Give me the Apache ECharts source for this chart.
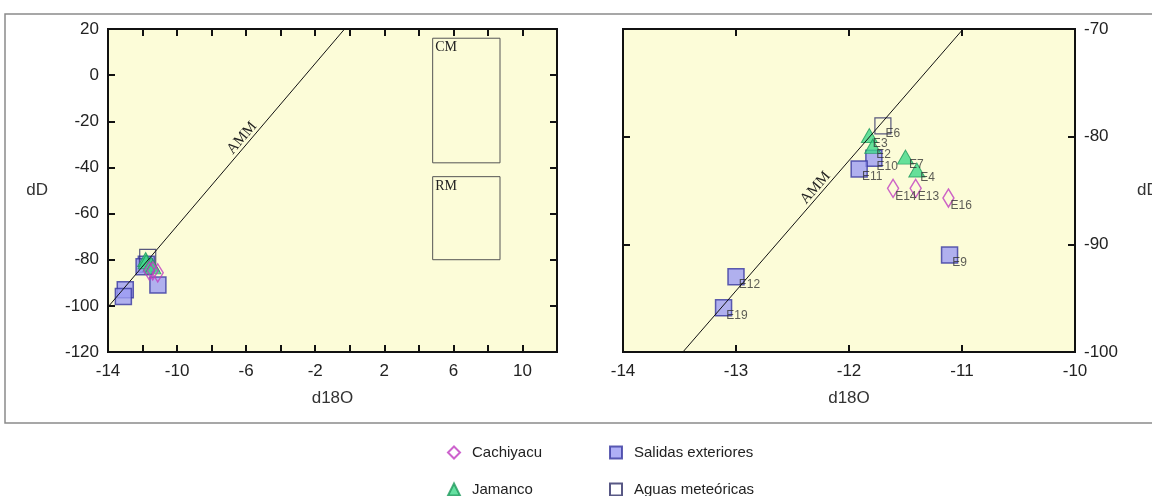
<!DOCTYPE html>
<html>
<head>
<meta charset="utf-8">
<script src="https://cdn.jsdelivr.net/npm/echarts@6/dist/echarts.min.js"></script>
<style>
  html, body { margin: 0; padding: 0; background: #fff; }
  #chart { width: 1152px; height: 496px; }
</style>
</head>
<body>
<div id="chart"></div>
<script>
// puntos: [d18O, dD, etiqueta]
const cachiyacu = [[-11.61, -84.8, 'E14'], [-11.41, -84.8, 'E13'], [-11.12, -85.7, 'E16']];
const jamanco = [[-11.82, -79.9, 'E3'], [-11.79, -80.9, 'E2'], [-11.50, -81.9, 'E7'], [-11.40, -83.1, 'E4']];
const salidas = [[-11.78, -82.0, 'E10'], [-11.91, -83.0, 'E11'], [-11.11, -91.0, 'E9'], [-13.0, -93.0, 'E12'], [-13.11, -95.9, 'E19']];
const aguas = [[-11.70, -79.0, 'E6']];

const ammLeft = [[-14, -100.5], [-0.3, 20]];
const ammRight = [[-13.47, -100], [-10.99, -70]];

// recuadros CM / RM del panel izquierdo
const boxCM = [[4.8, 16], [8.7, -38]];
const boxRM = [[4.8, -44], [8.7, -80]];

const xTicksLeft = { min: -14, max: 12, interval: 2 };
const yTicksLeft = { min: -120, max: 20, interval: 20 };
const xTicksRight = { min: -14, max: -10, interval: 1 };
const yTicksRight = { min: -100, max: -70, interval: 10 };

const FONT = 'Liberation Sans, Arial, sans-serif';
const SERIF = 'Liberation Serif, DejaVu Serif, serif';
const BG = '#fcfcd8';

const chart = echarts.init(document.getElementById('chart'));

function axisBase(show) {
  return {
    axisLine: { show: false, onZero: false },
    axisTick: { show: true, inside: true, length: 7, lineStyle: { color: '#111', width: 2 } },
    axisLabel: { show: show, color: '#222', fontSize: 17, fontFamily: FONT },
    splitLine: { show: false }
  };
}

function xAxis(grid, t, pos, labels, fmt) {
  const a = Object.assign(axisBase(labels), {
    type: 'value', gridIndex: grid, position: pos, min: t.min, max: t.max, interval: t.interval
  });
  if (labels) {
    a.name = 'd18O';
    a.nameLocation = 'middle';
    a.nameGap = 38;
    a.nameTextStyle = { color: '#333', fontSize: 17, fontFamily: FONT };
    a.axisLabel.margin = 11;
    if (fmt) a.axisLabel.formatter = fmt;
  }
  return a;
}

function yAxis(grid, t, pos, labels, gap) {
  const a = Object.assign(axisBase(labels), {
    type: 'value', gridIndex: grid, position: pos, min: t.min, max: t.max, interval: t.interval
  });
  if (labels) {
    a.name = 'dD';
    a.nameLocation = 'middle';
    a.nameRotate = 0;
    a.nameGap = gap;
    a.nameTextStyle = { color: '#333', fontSize: 17, fontFamily: FONT };
    a.axisLabel.margin = 9;
  }
  return a;
}

const styles = {
  'Cachiyacu': { symbol: 'diamond', symbolSize: [11, 18], itemStyle: { color: 'rgba(0,0,0,0)', borderColor: '#c03cc0', borderWidth: 1.5 }, dist: -4 },
  'Jamanco': { symbol: 'triangle', symbolSize: [16, 14], itemStyle: { color: '#3ed88a', borderColor: '#1f9a5c', borderWidth: 1 }, dist: -5 },
  'Salidas exteriores': { symbol: 'rect', symbolSize: 16, itemStyle: { color: '#9c9cf4', borderColor: '#3838a0', borderWidth: 1.5 }, dist: -6 },
  'Aguas meteóricas': { symbol: 'rect', symbolSize: 16, itemStyle: { color: 'rgba(0,0,0,0)', borderColor: '#2e2e66', borderWidth: 1.2 }, dist: -6 }
};
const groups = [['Salidas exteriores', salidas], ['Aguas meteóricas', aguas], ['Jamanco', jamanco], ['Cachiyacu', cachiyacu]];

const series = [];
groups.forEach(function (g) {
  const st = styles[g[0]];
  [0, 1].forEach(function (grid) {
    series.push({
      name: g[0],
      type: 'scatter',
      xAxisIndex: grid * 2,
      yAxisIndex: grid * 2,
      symbol: st.symbol,
      symbolSize: st.symbolSize,
      itemStyle: st.itemStyle,
      z: 3,
      data: g[1].map(function (p) { return { value: [p[0], p[1]], name: p[2] }; }),
      label: {
        show: grid === 1,
        formatter: '{b}',
        position: 'right',
        distance: st.dist,
        offset: [0, 8],
        color: '#333',
        fontSize: 12,
        fontFamily: FONT
      },
      emphasis: { disabled: true }
    });
  });
});

function ammSeries(grid, pts, pad, boxes) {
  const s = {
    type: 'line',
    xAxisIndex: grid * 2,
    yAxisIndex: grid * 2,
    data: [],
    symbol: 'none',
    silent: true,
    z: 2,
    markLine: {
      silent: true,
      symbol: 'none',
      lineStyle: { color: '#111', width: 1, type: 'solid' },
      label: { show: true, formatter: 'AMM', position: 'middle', color: '#222', fontSize: 15, fontFamily: SERIF, distance: 0, padding: pad },
      data: [[{ coord: pts[0] }, { coord: pts[1] }]]
    }
  };
  if (boxes) {
    s.markArea = {
      silent: true,
      itemStyle: { color: 'rgba(0,0,0,0)', borderColor: '#555', borderWidth: 1 },
      label: { show: true, position: 'insideTopLeft', distance: 3, color: '#222', fontSize: 14, fontFamily: SERIF },
      data: boxes.map(function (b) { return [{ name: b[0], coord: b[1][0] }, { coord: b[1][1] }]; })
    };
  }
  return s;
}
series.push(ammSeries(0, ammLeft, [0, 0, 0, 66], [['CM', boxCM], ['RM', boxRM]]));
series.push(ammSeries(1, ammRight, [0, 6, 0, 0], null));

const legendBase = {
  orient: 'vertical',
  padding: 0,
  itemGap: 22,
  itemWidth: 12,
  itemHeight: 12,
  height: 70,
  selectedMode: false,
  textStyle: { color: '#222', fontSize: 15, lineHeight: 14, fontFamily: FONT, padding: [0, 0, 0, 7] }
};

chart.setOption({
  backgroundColor: '#fff',
  animation: false,
  graphic: [{
    type: 'rect',
    shape: { x: 5, y: 14, width: 1160, height: 409 },
    style: { fill: 'none', stroke: '#8a8a8a', lineWidth: 1.5 },
    z: -10
  }],
  grid: [
    { left: 108, top: 29, width: 449, height: 323, outerBoundsMode: 'none', show: true, backgroundColor: BG, borderColor: '#111', borderWidth: 2 },
    { left: 623, top: 29, width: 452, height: 323, outerBoundsMode: 'none', show: true, backgroundColor: BG, borderColor: '#111', borderWidth: 2 }
  ],
  xAxis: [
    xAxis(0, xTicksLeft, 'bottom', true, function (v) { return (v + 14) % 4 === 0 ? String(v) : ''; }),
    xAxis(0, xTicksLeft, 'top', false),
    xAxis(1, xTicksRight, 'bottom', true),
    xAxis(1, xTicksRight, 'top', false)
  ],
  yAxis: [
    yAxis(0, yTicksLeft, 'left', true, 60),
    yAxis(0, yTicksLeft, 'right', false),
    yAxis(1, yTicksRight, 'right', true, 62),
    yAxis(1, yTicksRight, 'left', false)
  ],
  legend: [
    Object.assign({}, legendBase, {
      left: 447, top: 445,
      data: [
        { name: 'Cachiyacu', icon: 'diamond' },
        { name: 'Jamanco', icon: 'triangle' }
      ]
    }),
    Object.assign({}, legendBase, {
      left: 609, top: 445,
      data: [
        { name: 'Salidas exteriores', icon: 'rect' },
        { name: 'Aguas meteóricas', icon: 'rect' }
      ]
    })
  ],
  series: series
});
</script>
</body>
</html>
